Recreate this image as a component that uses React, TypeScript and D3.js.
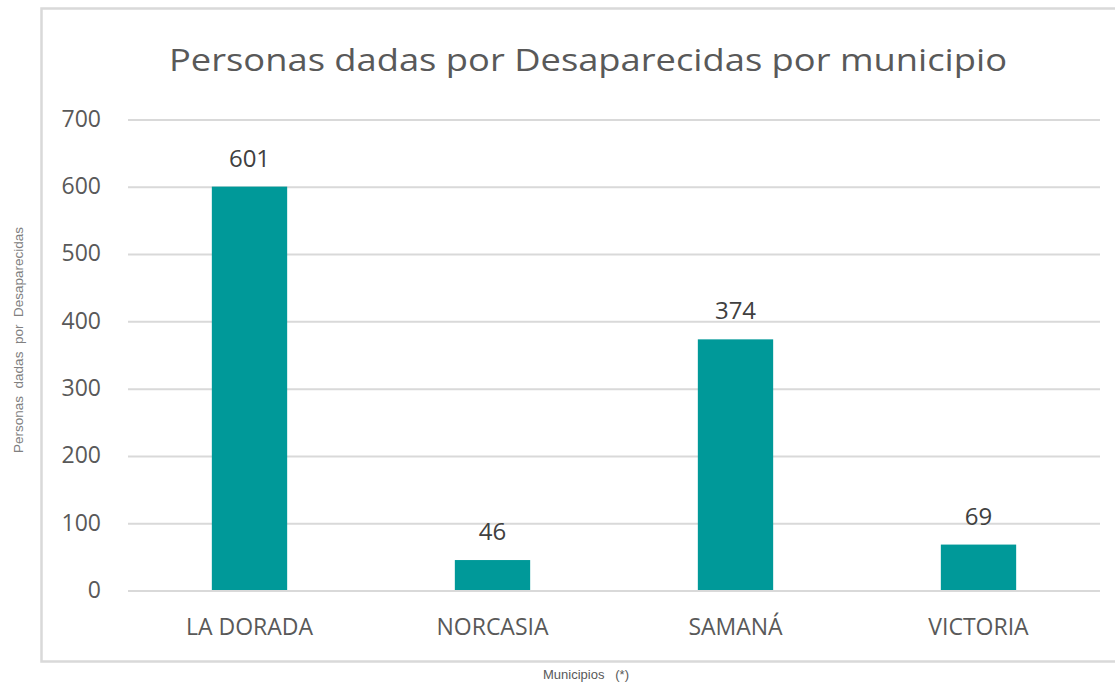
import React, { useRef, useEffect } from 'react';
import * as d3 from 'd3';

const municipios = ['LA DORADA', 'NORCASIA', 'SAMANÁ', 'VICTORIA'];
const personas = [601, 46, 374, 69];
const yTicks = [0, 100, 200, 300, 400, 500, 600, 700];

const W = 1115;
const H = 682;

const App: React.FC = () => {
  const svgRef = useRef<SVGSVGElement | null>(null);

  useEffect(() => {
    if (!svgRef.current) return;
    const svg = d3.select(svgRef.current);
    svg.selectAll('*').remove();

    const margin = { top: 120, right: 15, bottom: 91, left: 128 };
    const innerW = W - margin.left - margin.right;
    const innerH = H - margin.top - margin.bottom;

    // outer frame of the chart (right side runs past the picture)
    svg.append('rect')
      .attr('x', 41.5)
      .attr('y', 8.5)
      .attr('width', W + 20)
      .attr('height', 653)
      .attr('fill', '#fff')
      .attr('stroke', '#d9d9d9')
      .attr('stroke-width', 2.5);

    const x = d3.scaleBand()
      .domain(municipios)
      .range([0, innerW])
      .padding(0);

    const y = d3.scaleLinear()
      .domain([0, 700])
      .range([innerH, 0]);

    const g = svg.append('g')
      .attr('transform', `translate(${margin.left},${margin.top})`);

    // grid lines
    g.selectAll('.grid')
      .data(yTicks)
      .enter()
      .append('line')
      .attr('x1', 0)
      .attr('x2', innerW)
      .attr('y1', d => y(d))
      .attr('y2', d => y(d))
      .attr('stroke', '#d9d9d9')
      .attr('stroke-width', 2);

    // tick labels
    g.selectAll('.ytick')
      .data(yTicks)
      .enter()
      .append('text')
      .attr('x', -27)
      .attr('y', d => y(d))
      .attr('dy', '0.3em')
      .attr('text-anchor', 'end')
      .attr('font-size', '23px')
      .attr('fill', '#595959')
      .text(d => d);

    const barW = x.bandwidth() * 0.31;
    const data = municipios.map((m, i) => ({ m, v: personas[i] }));

    // bars
    g.selectAll('.bar')
      .data(data)
      .enter()
      .append('rect')
      .attr('x', d => (x(d.m) || 0) + x.bandwidth() / 2 - barW / 2)
      .attr('y', d => y(d.v))
      .attr('width', barW)
      .attr('height', d => innerH - y(d.v) - 1)
      .attr('fill', '#009999');

    // values above bars
    g.selectAll('.val')
      .data(data)
      .enter()
      .append('text')
      .attr('x', d => (x(d.m) || 0) + x.bandwidth() / 2)
      .attr('y', d => y(d.v) - 20)
      .attr('text-anchor', 'middle')
      .attr('font-size', '24px')
      .attr('fill', '#404040')
      .text(d => d.v);

    // category labels
    g.selectAll('.cat')
      .data(municipios)
      .enter()
      .append('text')
      .attr('x', d => (x(d) || 0) + x.bandwidth() / 2)
      .attr('y', innerH + 44)
      .attr('text-anchor', 'middle')
      .attr('font-size', '23px')
      .attr('fill', '#595959')
      .text(d => d);

    // title
    svg.append('text')
      .attr('x', 588)
      .attr('y', 71)
      .attr('text-anchor', 'middle')
      .attr('font-size', '31px')
      .attr('fill', '#595959')
      .attr('textLength', 838)
      .attr('lengthAdjust', 'spacingAndGlyphs')
      .text('Personas dadas por Desaparecidas por municipio');

    // axis titles
    svg.append('text')
      .attr('transform', 'translate(23,340) rotate(-90)')
      .attr('text-anchor', 'middle')
      .attr('font-family', 'Liberation Sans, Arial, sans-serif')
      .attr('font-size', '13.5px')
      .attr('fill', '#808080')
      .attr('xml:space', 'preserve')
      .text('Personas  dadas  por  Desaparecidas');

    svg.append('text')
      .attr('x', 586)
      .attr('y', 679)
      .attr('text-anchor', 'middle')
      .attr('font-family', 'Liberation Sans, Arial, sans-serif')
      .attr('font-size', '13px')
      .attr('fill', '#595959')
      .attr('xml:space', 'preserve')
      .text('Municipios   (*)');
  }, []);

  return (
    <svg
      ref={svgRef}
      width={W}
      height={H}
      style={{ position: 'absolute', left: 0, top: 0, fontFamily: 'Open Sans, sans-serif', background: '#fff' }}
    />
  );
};

export default App;
